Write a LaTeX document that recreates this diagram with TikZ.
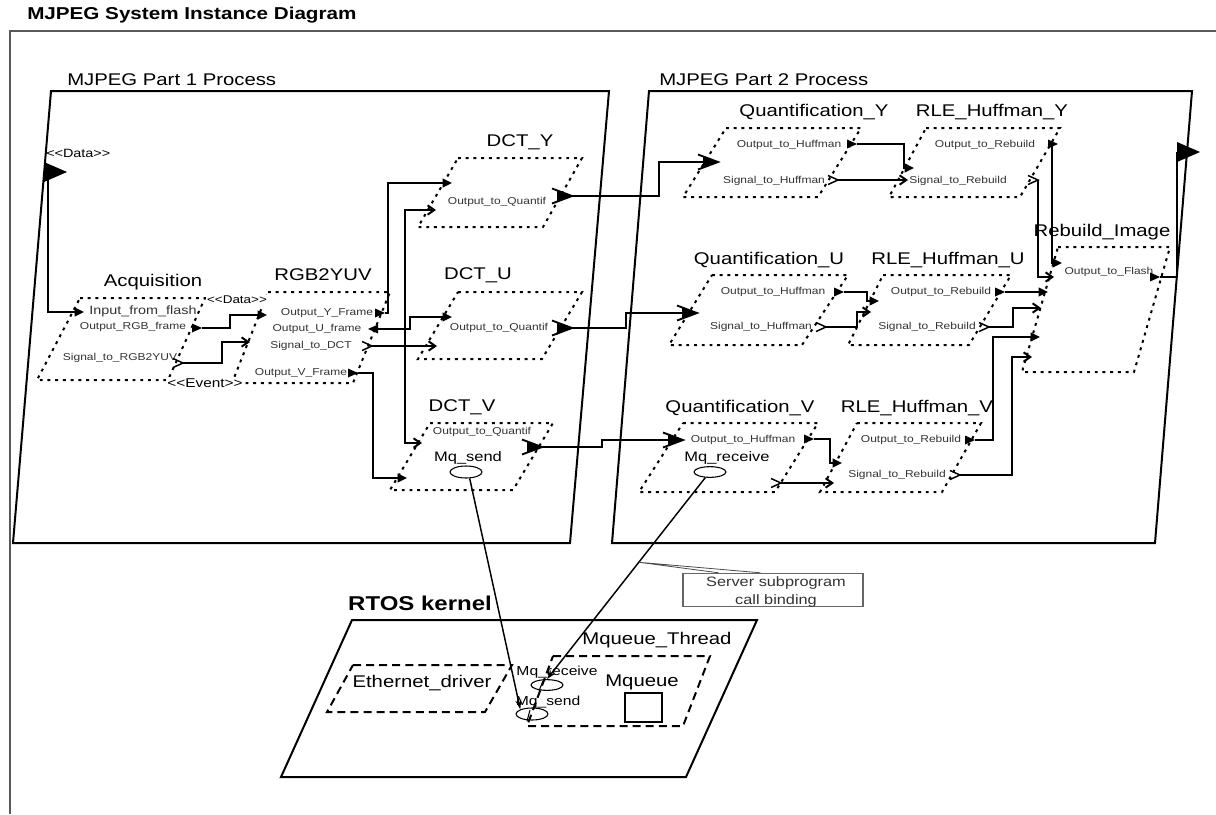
\documentclass[tikz,border=0pt]{standalone}
\usepackage{fontspec}
\setmainfont{Liberation Sans}[FakeStretch=1.2]
\usetikzlibrary{arrows.meta,calc,shapes.geometric}
\tikzset{
  frm/.style={line width=1.5pt},
  comp/.style={line width=1.5pt,dash pattern=on 2.2pt off 3.6pt},
  kcomp/.style={line width=1.5pt,dash pattern=on 6pt off 3.8pt},
  cname/.style={font=\fontsize{12.7}{14}\selectfont,inner sep=0pt},
  plab/.style={font=\fontsize{7.5}{8}\selectfont,text=black!80,inner sep=0pt},
  dconn/.style={line width=1.5pt,-{Triangle[length=7pt,width=6.5pt]}},
  econn/.style={line width=1.5pt,-{Straight Barb[length=5pt,width=7pt]}},
  edconn/.style={line width=1.5pt},
  mqconn/.style={line width=1.1pt,-{Stealth[length=7pt,width=4.5pt]}},
  mq/.style={ellipse,draw,line width=0.8pt,inner sep=0pt,minimum width=24pt,minimum height=8pt},
  dport/.pic={\fill (0,0) -- (-10,-4.5) -- (-10,4.5) -- cycle;},
  dportl/.pic={\fill (-10,0) -- (0,-4.5) -- (0,4.5) -- cycle;},
  eport/.pic={\draw[line width=1.1pt] (-10,-4.5) -- (0,0) -- (-10,4.5);},
  edport/.pic={\draw[line width=1.4pt] (-20,-7.5) -- (0,0) -- (-20,7.5);
    \fill (-2,0) -- (-15,-5.5) -- (-15,5.5) -- cycle;},
  bigport/.pic={\fill (0,-10) -- (23,0) -- (0,10) -- cycle;}
}
\begin{document}
\begin{tikzpicture}[x=0.75pt,y=-0.75pt]
\useasboundingbox (0,0) rectangle (1216,814);
\fill[white] (0,0) rectangle (1216,814);
% system frame
\node[font=\bfseries\fontsize{12.9}{14}\selectfont,anchor=west,inner sep=0pt] (title) at (27,15) {MJPEG System Instance Diagram};
\draw[black!65,line width=1.5pt] (10,814) -- (10,31) -- (1216,31);
% processes
\draw[frm] (51,91) -- (609,91) -- (570,543) -- (13,543) -- cycle;
\draw[frm] (649,91) -- (1192,91) -- (1155,543) -- (612,543) -- cycle;
\node[cname,anchor=west] (p1lbl) at (67,80) {MJPEG Part 1 Process};
\node[cname,anchor=west] (p2lbl) at (659,80) {MJPEG Part 2 Process};
\pic at (44,172) {bigport};
\node[font=\fontsize{9}{10}\selectfont,anchor=west,inner sep=0pt] (pinlbl) at (46,153) {<{}<Data>{}>};

% threads of part 1
\draw[comp] (80,298) -- (205,298) -- (168,380) -- (37,380) -- cycle;
\draw[comp] (268,292) -- (390,292) -- (353,383) -- (232,383) -- cycle;
\draw[comp] (458,158) -- (582,158) -- (543,227) -- (418,227) -- cycle;
\draw[comp] (458,292) -- (582,292) -- (542,359) -- (418,359) -- cycle;
\draw[comp] (430,423) -- (553,423) -- (513,490) -- (390,490) -- cycle;
\node[cname] (acq) at (153,282) {Acquisition};
\node[cname] (rgb) at (323,275) {RGB2YUV};
\node[cname] (dcty) at (520,142) {DCT\_Y};
\node[cname] (dctu) at (478,275) {DCT\_U};
\node[cname] (dctv) at (462,407) {DCT\_V};
\node[font=\fontsize{8.4}{9}\selectfont,fill=white,inner sep=1pt] (datalbl) at (237,300) {<{}<Data>{}>};
\node[font=\fontsize{9.6}{10}\selectfont,fill=white,inner sep=1pt] (evlbl) at (205,383) {<{}<Event>{}>};

% threads of part 2
\draw[comp] (726,128) -- (861,128) -- (818,197) -- (683,197) -- cycle;
\draw[comp] (926,128) -- (1060,128) -- (1020,197) -- (889,197) -- cycle;
\draw[comp] (712,275) -- (848,275) -- (802,345) -- (669,345) -- cycle;
\draw[comp] (883,275) -- (1011,275) -- (969,345) -- (848,345) -- cycle;
\draw[comp] (1058,247) -- (1170,247) -- (1134,372) -- (1022,372) -- cycle;
\draw[comp] (683,423) -- (818,423) -- (775,492) -- (639,492) -- cycle;
\draw[comp] (857,423) -- (981,423) -- (942,492) -- (820,492) -- cycle;
\node[cname] (quanty) at (814,112) {Quantification\_Y};
\node[cname] (rley) at (992,112) {RLE\_Huffman\_Y};
\node[cname] (quantu) at (769,260) {Quantification\_U};
\node[cname] (rleu) at (948,260) {RLE\_Huffman\_U};
\node[cname] (rebuild) at (1102,232) {Rebuild\_Image};
\node[cname] (quantv) at (740,408) {Quantification\_V};
\node[cname] (rlev) at (917,408) {RLE\_Huffman\_V};

% port labels
\node[plab,font=\fontsize{9}{10}\selectfont] (l1) at (143,311) {Input\_from\_flash};
\node[plab] (l2) at (133,327) {Output\_RGB\_frame};
\node[plab] (l3) at (120,358) {Signal\_to\_RGB2YUV};
\node[plab] (l4) at (327,313) {Output\_Y\_Frame};
\node[plab] (l5) at (317,329) {Output\_U\_frame};
\node[plab] (l6) at (311,346) {Signal\_to\_DCT};
\node[plab] (l7) at (301,373) {Output\_V\_Frame};
\node[plab] (l8) at (497,202) {Output\_to\_Quantif};
\node[plab] (l9) at (499,328) {Output\_to\_Quantif};
\node[plab] (l10) at (482,432) {Output\_to\_Quantif};
\node[plab] (l11) at (789,145) {Output\_to\_Huffman};
\node[plab] (l12) at (774,181) {Signal\_to\_Huffman};
\node[plab] (l13) at (985,145) {Output\_to\_Rebuild};
\node[plab] (l14) at (958,181) {Signal\_to\_Rebuild};
\node[plab] (l15) at (773,292) {Output\_to\_Huffman};
\node[plab] (l16) at (761,327) {Signal\_to\_Huffman};
\node[plab] (l17) at (941,292) {Output\_to\_Rebuild};
\node[plab] (l18) at (927,327) {Signal\_to\_Rebuild};
\node[plab] (l19) at (1109,272) {Output\_to\_Flash};
\node[plab] (l20) at (743,440) {Output\_to\_Huffman};
\node[plab] (l21) at (911,440) {Output\_to\_Rebuild};
\node[plab] (l22) at (897,475) {Signal\_to\_Rebuild};
\node[font=\fontsize{10.3}{11}\selectfont,inner sep=0pt] (mqsl) at (468,458) {Mq\_send};
\node[font=\fontsize{10.3}{11}\selectfont,inner sep=0pt] (mqrl) at (727,458) {Mq\_receive};
\node[mq,minimum height=9pt] (mqs) at (466,472) {};
\node[mq] (mqr) at (710,472) {};

% ports
\coordinate (pin) at (48,172);
\coordinate (acqi) at (84,312);  \coordinate (acqo) at (202,328); \coordinate (acqs) at (183,363);
\coordinate (rgbi) at (267,315); \coordinate (rgbe) at (250,342);
\coordinate (rgby) at (385,313); \coordinate (rgbu) at (378,329);
\coordinate (rgbs) at (372,346); \coordinate (rgbv) at (358,373);
\coordinate (fork) at (405,346);
\coordinate (dyi) at (452,183); \coordinate (dye) at (436,210); \coordinate (dyo) at (572,196);
\coordinate (dui) at (452,317); \coordinate (due) at (437,346); \coordinate (duo) at (572,328);
\coordinate (dvi) at (407,478); \coordinate (dve) at (422,443); \coordinate (dvo) at (542,447);
\coordinate (qyi) at (718,162); \coordinate (qyo) at (857,144); \coordinate (qys) at (838,180);
\coordinate (ryi) at (914,168); \coordinate (rye) at (908,180);
\coordinate (ryo) at (1058,144); \coordinate (rys) at (1038,180);
\coordinate (qui) at (697,313); \coordinate (quo) at (844,292); \coordinate (qus) at (826,327);
\coordinate (rui) at (879,301); \coordinate (rue) at (871,312);
\coordinate (ruo) at (1005,292); \coordinate (rus) at (989,327);
\coordinate (qvi) at (683,440); \coordinate (qvo) at (814,439); \coordinate (qvs) at (781,483);
\coordinate (rvi) at (842,463); \coordinate (rve) at (834,483);
\coordinate (rvo) at (975,440); \coordinate (rvs) at (960,475);
\coordinate (rbi1) at (1062,263); \coordinate (rbe1) at (1054,277);
\coordinate (rbi2) at (1048,292); \coordinate (rbe2) at (1041,308);
\coordinate (rbi3) at (1040,337); \coordinate (rbe3) at (1032,357);
\coordinate (rbo) at (1160,277); \coordinate (pout) at (1177,152);

% port glyphs
\pic at (acqo) {dport}; \pic at (acqs) {eport};
\pic at (rgby) {dport}; \pic at (rgbu) {dportl}; \pic at (rgbs) {eport}; \pic at (rgbv) {dport};
\pic at (dyo) {edport}; \pic at (duo) {edport}; \pic at (dvo) {edport};
\pic at (qyi) {edport}; \pic at (qui) {edport}; \pic at (qvi) {edport};
\pic at (qyo) {dport}; \pic at (qys) {eport}; \pic at (ryo) {dport}; \pic at (rys) {eport};
\pic at (quo) {dport}; \pic at (qus) {eport}; \pic at (ruo) {dport}; \pic at (rus) {eport};
\pic at (qvo) {dport}; \pic at (qvs) {eport}; \pic at (rvo) {dport}; \pic at (rvs) {eport};
\pic at (rbo) {dport}; \pic at (pout) {bigport};

% connections
\draw[dconn] (pin) |- (acqi);
\draw[dconn] (acqo) -- ++(28,0) |- (rgbi);
\draw[econn] (acqs) -- ++(39,0) |- (rgbe);
\draw[dconn] (rgby) -- ++(3,0) |- (dyi);
\draw[dconn] (rgbu) -- ++(32,0) |- (dui);
\draw[econn] (rgbs) -- (due);
\draw[econn] (fork) |- (dye);
\draw[econn] (fork) |- (dve);
\draw[dconn] (rgbv) -- ++(15,0) |- (dvi);
\draw[edconn] (dyo) -- ++(87,0) |- (qyi);
\draw[edconn] (duo) -- ++(54,0) |- (qui);
\draw[edconn] (dvo) -- ++(60,0) |- (qvi);
\draw[dconn] (qyo) -- ++(47,0) |- (ryi);
\draw[econn] (qys) -- (rye);
\draw[dconn] (ryo) ++(-6,0) |- (rbi1);
\draw[econn] (rys) |- (rbe1);
\draw[dconn] (quo) -- ++(23,0) |- (rui);
\draw[econn] (qus) -- ++(31,0) |- (rue);
\draw[dconn] (ruo) -- (rbi2);
\draw[econn] (rus) -- ++(24,0) |- (rbe2);
\draw[dconn] (qvo) -- ++(16,0) |- (rvi);
\draw[econn] (qvs) -- (rve);
\draw[dconn] (rvo) -- ++(18,0) |- (rbi3);
\draw[econn] (rvs) -- ++(52,0) |- (rbe3);
\draw[line width=1.5pt] (rbo) -| (pout);

% RTOS kernel
\node[font=\bfseries\fontsize{15}{16}\selectfont,inner sep=0pt] (rtos) at (420,603) {RTOS kernel};
\draw[frm] (352,620) -- (757,620) -- (686,777) -- (281,777) -- cycle;
\draw[kcomp] (353,665) -- (512,665) -- (485,712) -- (327,712) -- cycle;
\draw[kcomp] (553,656) -- (710,656) -- (683,726) -- (527,726) -- cycle;
\node[cname] (eth) at (422,683) {Ethernet\_driver};
\node[cname] (mqth) at (657,640) {Mqueue\_Thread};
\node[cname] (mqueue) at (642,682) {Mqueue};
\draw[line width=1.5pt] (625,693) rectangle (662,722);
\node[font=\fontsize{9.8}{10}\selectfont,inner sep=0pt] (krl) at (557,672) {Mq\_receive};
\node[font=\fontsize{9.8}{10}\selectfont,inner sep=0pt] (ksl) at (548,702) {Mq\_send};
\node[mq] (krecv) at (547,685) {};
\node[mq,minimum height=9pt] (ksend) at (532,714) {};
\draw[line width=0.8pt] (543,681) -- (539,691);
\draw[line width=0.8pt] (530,710) -- (527,721);
\draw[mqconn] (mqs.-60) -- (ksend.north west);
\draw[mqconn] (mqr.230) -- (krecv.north);

% binding note
\coordinate (cb) at ($(mqr.230)!0.42!(krecv.north)$);
\node[draw=black!60,line width=0.8pt,minimum width=135pt,minimum height=25pt,inner sep=0pt] (srvbox) at (773,590) {};
\node[font=\fontsize{10.2}{14.2}\selectfont,align=center,inner sep=0pt,text=black!80] (srv) at (776,592) {Server subprogram\\call binding};
\draw[black!70,line width=0.6pt] (cb) -- ($(srvbox.north west)!0.2!(srvbox.north east)$)
  (cb) -- ($(srvbox.north west)!0.43!(srvbox.north east)$);
\end{tikzpicture}
\end{document}
